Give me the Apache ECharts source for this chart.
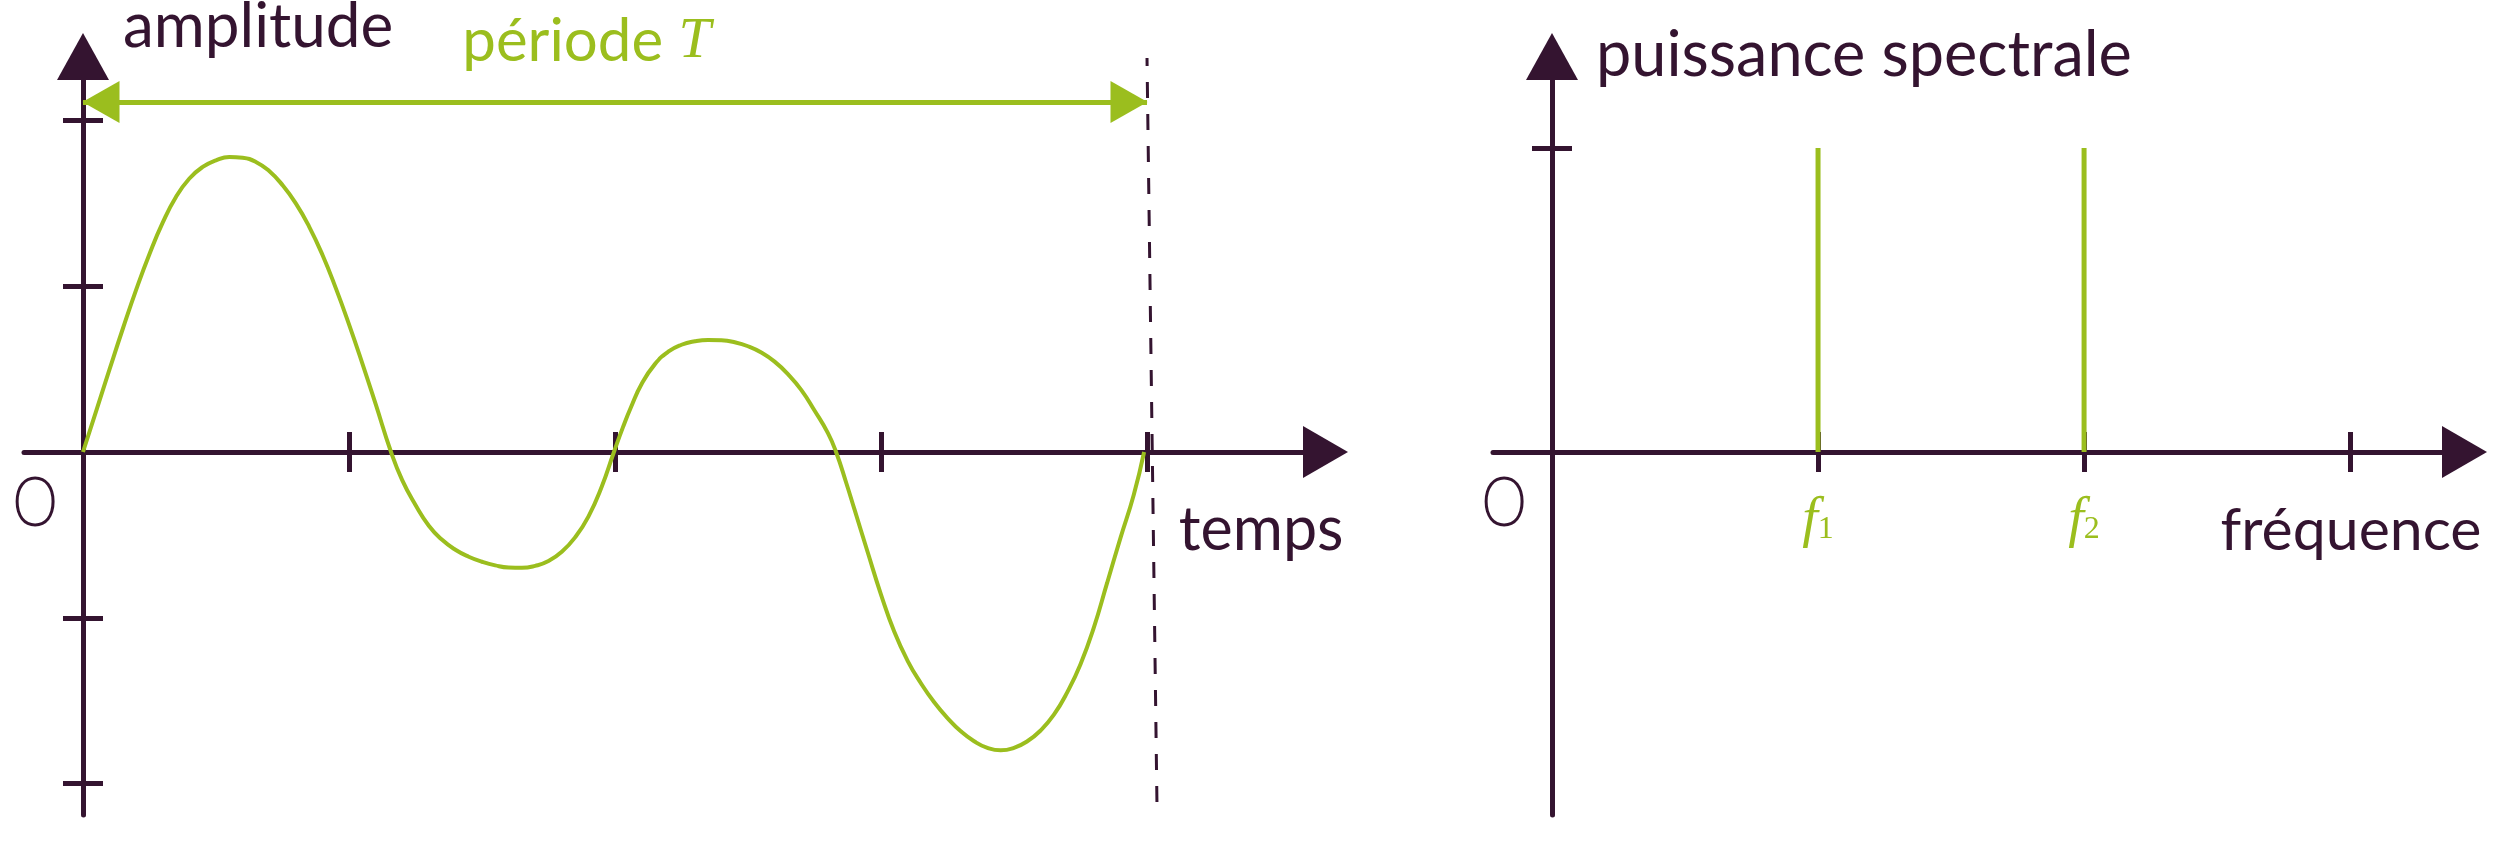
<!DOCTYPE html>
<html><head><meta charset="utf-8">
<script src="https://cdn.jsdelivr.net/npm/echarts@6/dist/echarts.min.js"></script>
<style>html,body{margin:0;padding:0;background:#fff}#c{width:2501px;height:843px}</style>
</head><body><div id="c"></div>
<script>
// ---- data ----
const timeX = [0, 0.05, 0.1, 0.15, 0.2, 0.25, 0.3, 0.35, 0.4, 0.45, 0.5, 0.55, 0.6, 0.65, 0.7, 0.75, 0.8, 0.85, 0.9, 0.95, 1.0, 1.05, 1.1, 1.158,
  1.2, 1.25, 1.3, 1.35, 1.4, 1.45, 1.5, 1.55, 1.6, 1.65, 1.7, 1.75, 1.8, 1.85, 1.9, 1.95, 1.996,
  2.03, 2.06, 2.1, 2.15, 2.2, 2.25, 2.3, 2.35, 2.4, 2.45, 2.5, 2.55, 2.6, 2.65, 2.7, 2.75, 2.8, 2.831,
  2.87, 2.9, 2.95, 3.0, 3.05, 3.1, 3.15, 3.2, 3.25, 3.3, 3.35, 3.4, 3.45, 3.5, 3.55, 3.6, 3.65, 3.7, 3.75, 3.8, 3.85, 3.9, 3.95, 3.989];
const amplitudeY = [0, 0.25, 0.50, 0.745, 0.98, 1.195, 1.385, 1.54, 1.65, 1.72, 1.76, 1.78, 1.775, 1.75, 1.695, 1.61, 1.50, 1.36, 1.19, 0.99, 0.77, 0.535, 0.29, 0,
  -0.17, -0.32, -0.445, -0.53, -0.59, -0.632, -0.662, -0.684, -0.697, -0.699, -0.687, -0.658, -0.602, -0.515, -0.39, -0.21, 0,
  0.15, 0.27, 0.41, 0.53, 0.605, 0.647, 0.668, 0.676, 0.674, 0.662, 0.638, 0.60, 0.545, 0.47, 0.375, 0.25, 0.115, 0,
  -0.19, -0.345, -0.605, -0.86, -1.085, -1.26, -1.395, -1.51, -1.605, -1.685, -1.745, -1.785, -1.80, -1.785, -1.745, -1.68, -1.585, -1.45, -1.28, -1.06, -0.79, -0.52, -0.26, 0];
const timeTicks = [1, 2, 3, 4];
const amplitudeTicks = [-2, -1, 1, 2];
const spectrumFreq = [1, 2];
const spectrumPower = [1, 1];
const freqSubscripts = ['1', '2'];
const freqTicks = [1, 2, 3];
const powerTicks = [1];
const periodStart = 0, periodEnd = 4, periodLevel = 2.112;
const dashedTop = [4.0, 2.377], dashedBottom = [4.038, -2.19];
const texts = { amp: 'amplitude', time: 'temps', power: 'puissance spectrale', freq: 'fréquence', period: 'période ', T: 'T', origin: 'O', f: 'f' };

// ---- style ----
const D = '#341430', G = '#9bbe1e';
const FONT = 'Lato';

function mainAxisLine(symSize) {
  return { show: true, onZero: true, symbol: ['none', 'triangle'], symbolSize: symSize, lineStyle: { color: D, width: 5 } };
}
function tick(vals) {
  return { show: true, customValues: vals, length: 20, lineStyle: { color: D, width: 5 } };
}
const common = { type: 'value', axisLabel: { show: false }, splitLine: { show: false }, nameMoveOverlap: false };

const chart = echarts.init(document.getElementById('c'), null, { renderer: 'canvas' });
const option = {
  animation: false,
  backgroundColor: '#ffffff',
  grid: [
    { left: 24, top: 56.5, width: 1301.5, height: 758.5, outerBoundsMode: 'none', containLabel: false },
    { left: 1493, top: 56.5, width: 971.5, height: 758.5, outerBoundsMode: 'none', containLabel: false }
  ],
  xAxis: [
    Object.assign({}, common, { gridIndex: 0, position: 'bottom', min: -0.2218, max: 4.671,
      axisLine: mainAxisLine([52, 45]), axisTick: tick(timeTicks),
      name: texts.time, nameLocation: 'end', nameGap: 18,
      nameTextStyle: { align: 'right', verticalAlign: 'top', padding: [48, 0, 0, 0], fontSize: 61, fontFamily: FONT, color: D } }),
    Object.assign({}, common, { gridIndex: 0, position: 'top', min: -0.2218, max: 4.671,
      axisLine: { show: false, onZero: true }, axisTick: tick(timeTicks) }),
    Object.assign({}, common, { gridIndex: 1, position: 'bottom', min: -0.2218, max: 3.430,
      axisLine: mainAxisLine([52, 45]), axisTick: tick(freqTicks),
      name: texts.freq, nameLocation: 'end', nameGap: 17,
      nameTextStyle: { align: 'right', verticalAlign: 'top', padding: [49, 0, 0, 0], fontSize: 59, fontFamily: FONT, color: D } }),
    Object.assign({}, common, { gridIndex: 1, position: 'top', min: -0.2218, max: 3.430,
      axisLine: { show: false, onZero: true }, axisTick: tick(freqTicks) })
  ],
  yAxis: [
    Object.assign({}, common, { gridIndex: 0, position: 'left', min: -2.19, max: 2.386,
      axisLine: mainAxisLine([52, 47]), axisTick: tick(amplitudeTicks),
      name: texts.amp, nameLocation: 'end', nameGap: -1,
      nameTextStyle: { align: 'left', verticalAlign: 'bottom', padding: [0, 0, 0, 40], fontSize: 62, fontFamily: FONT, color: D } }),
    Object.assign({}, common, { gridIndex: 0, position: 'right', min: -2.19, max: 2.386,
      axisLine: { show: false, onZero: true }, axisTick: tick(amplitudeTicks) }),
    Object.assign({}, common, { gridIndex: 1, position: 'left', min: -1.194, max: 1.301,
      axisLine: mainAxisLine([52, 47]), axisTick: tick(powerTicks),
      name: texts.power, nameLocation: 'end', nameGap: -31,
      nameTextStyle: { align: 'left', verticalAlign: 'bottom', padding: [0, 0, 0, 44], fontSize: 63, fontFamily: FONT, color: D } }),
    Object.assign({}, common, { gridIndex: 1, position: 'right', min: -1.194, max: 1.301,
      axisLine: { show: false, onZero: true }, axisTick: tick(powerTicks) })
  ],
  series: [
    {
      type: 'line', xAxisIndex: 0, yAxisIndex: 0,
      data: timeX.map((x, i) => [x, amplitudeY[i]]),
      showSymbol: false, smooth: 0.5,
      lineStyle: { color: G, width: 4 }, itemStyle: { color: G },
      z: 3,
      markLine: {
        silent: true, animation: false,
        label: { show: false },
        data: [
          [
            { coord: [periodStart, periodLevel], symbol: 'triangle', symbolSize: [42, 37], symbolOffset: [0, 18],
              lineStyle: { color: G, width: 5, type: 'solid' },
              label: { show: true, position: 'middle', distance: 30, padding: [0, 57, 0, 0],
                formatter: '{a|' + texts.period + '}{b|' + texts.T + '}',
                rich: {
                  a: { fontFamily: FONT, fontSize: 60, color: G },
                  b: { fontFamily: 'Liberation Serif', fontStyle: 'italic', fontSize: 58, color: G }
                } } },
            { coord: [periodEnd, periodLevel], symbol: 'triangle', symbolSize: [42, 37], symbolOffset: [0, 18] }
          ],
          [
            { coord: dashedTop, symbol: 'none', symbolSize: 1,
              lineStyle: { color: D, width: 3, type: [16, 16], dashOffset: 8 } },
            { coord: dashedBottom, symbol: 'none', symbolSize: 1 }
          ]
        ]
      }
    },
    {
      type: 'bar', xAxisIndex: 2, yAxisIndex: 2,
      data: spectrumFreq.map((f, i) => [f, spectrumPower[i]]),
      barWidth: 5, itemStyle: { color: G },
      label: {
        show: true, position: 'bottom', distance: 44,
        formatter: p => '{f|' + texts.f + '}{s|' + freqSubscripts[p.dataIndex] + '}',
        rich: {
          f: { fontFamily: 'Liberation Serif', fontStyle: 'italic', fontSize: 56, lineHeight: 50, color: G },
          s: { fontFamily: 'Liberation Serif', fontSize: 32, lineHeight: 8, verticalAlign: 'bottom', color: G }
        }
      }
    }
  ]
};
chart.setOption(option);

// origin labels placed from the axes' own scales
const o1 = chart.convertToPixel({ gridIndex: 0 }, [0, 0]);
const o2 = chart.convertToPixel({ gridIndex: 1 }, [0, 0]);
function originText(p) {
  return { type: 'text', x: p[0] - 48, y: p[1] + 52, scaleX: 0.85, silent: true,
    style: { text: texts.origin, x: 0, y: 0, align: 'center', verticalAlign: 'middle', fontFamily: FONT, fontWeight: 300, fontSize: 68, fill: D } };
}
chart.setOption({ graphic: [originText(o1), originText(o2)] });
</script>
</body></html>
